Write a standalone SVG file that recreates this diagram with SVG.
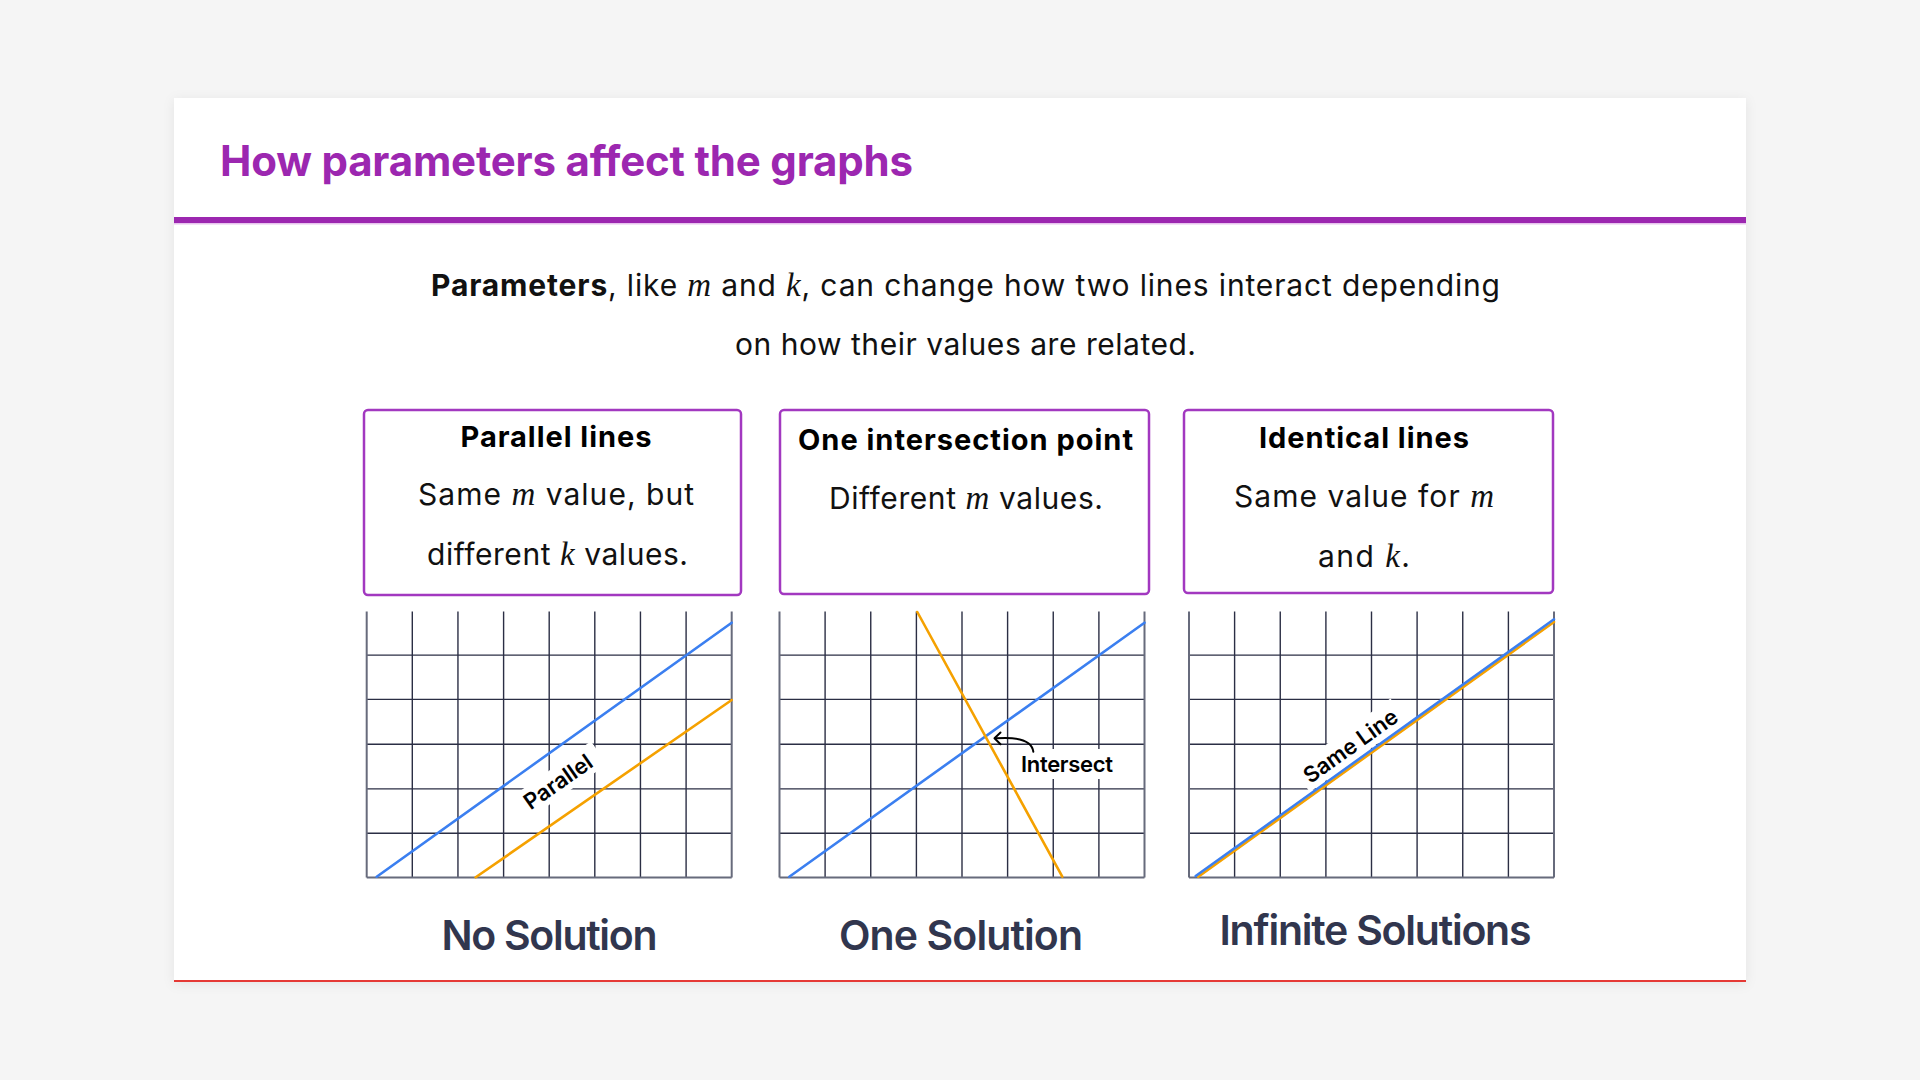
<svg xmlns="http://www.w3.org/2000/svg" xmlns:xlink="http://www.w3.org/1999/xlink" width="1920" height="1080" viewBox="0 0 1920 1080">
<style>
  text { font-family: Inter, "Noto Sans", "DejaVu Sans", sans-serif; }
  .title { font-size: 42px; font-weight: 700; fill: #9c27b0; }
  .body { font-size: 30px; font-weight: 400; fill: #111111; }
  .bold { font-weight: 700; }
  .math { font-family: "Liberation Serif", "DejaVu Serif", serif; font-style: italic; font-size: 33px; }
  .boxtitle { font-size: 29px; font-weight: 700; fill: #000000; }
  .box { fill: #ffffff; stroke: #a238c0; stroke-width: 2.5; }
  .gin { stroke: #2b2e44; stroke-width: 1.4; }
  .gout { stroke: #676b7c; stroke-width: 2; }
  .blue { stroke: #3b7ff0; stroke-width: 2.6; fill: none; stroke-linecap: round; }
  .orange { stroke: #f5a100; stroke-width: 2.6; fill: none; stroke-linecap: round; }
  .tag { font-size: 22px; font-weight: 600; fill: #000000; }
  .result { font-size: 41px; font-weight: 600; fill: #31364e; }
  .halo { fill: #ffffff; }
</style>
<defs>
  <filter id="shadow" x="-5%" y="-5%" width="110%" height="115%">
    <feDropShadow dx="0" dy="2" stdDeviation="6" flood-color="#000000" flood-opacity="0.07"/>
  </filter>
  <g id="grid-tpl">
    <line class="gin" x1="45.6" y1="0" x2="45.6" y2="266"/>
    <line class="gin" x1="91.25" y1="0" x2="91.25" y2="266"/>
    <line class="gin" x1="136.9" y1="0" x2="136.9" y2="266"/>
    <line class="gin" x1="182.5" y1="0" x2="182.5" y2="266"/>
    <line class="gin" x1="228.1" y1="0" x2="228.1" y2="266"/>
    <line class="gin" x1="273.75" y1="0" x2="273.75" y2="266"/>
    <line class="gin" x1="319.4" y1="0" x2="319.4" y2="266"/>
    <line class="gin" x1="0" y1="43.6" x2="365" y2="43.6"/>
    <line class="gin" x1="0" y1="87.9" x2="365" y2="87.9"/>
    <line class="gin" x1="0" y1="132.8" x2="365" y2="132.8"/>
    <line class="gin" x1="0" y1="177.4" x2="365" y2="177.4"/>
    <line class="gin" x1="0" y1="221.8" x2="365" y2="221.8"/>
    <line class="gout" x1="0" y1="0" x2="0" y2="266"/>
    <line class="gout" x1="365" y1="0" x2="365" y2="266"/>
    <line class="gout" x1="0" y1="266" x2="365" y2="266"/>
  </g>
</defs>

<rect x="0" y="0" width="1920" height="1080" fill="#f5f5f5"/>

<g id="card">
  <rect x="174" y="98" width="1572" height="884" fill="#ffffff" filter="url(#shadow)"/>
  <rect x="174" y="980" width="1572" height="2" fill="#e53935"/>
</g>

<g id="header">
  <text class="title" x="220" y="176" textLength="693">How parameters affect the graphs</text>
  <rect x="174" y="217" width="1572" height="6" fill="#9c27b0"/>
  <rect x="174" y="223" width="1572" height="1.5" fill="#e7c4ee"/>
</g>

<g id="intro">
  <text class="body" x="965.5" y="296" text-anchor="middle" textLength="1069"><tspan class="bold">Parameters</tspan>, like <tspan class="math">m</tspan> and <tspan class="math">k</tspan>, can change how two lines interact depending</text>
  <text class="body" x="965.5" y="355" text-anchor="middle" textLength="461">on how their values are related.</text>
</g>

<g id="box-parallel">
  <rect class="box" x="364" y="410" width="377" height="185" rx="4"/>
  <text class="boxtitle" x="556" y="447" text-anchor="middle" textLength="191">Parallel lines</text>
  <text class="body" x="556" y="505" text-anchor="middle" textLength="276">Same <tspan class="math">m</tspan> value, but</text>
  <text class="body" x="557.5" y="565" text-anchor="middle" textLength="261">different <tspan class="math">k</tspan> values.</text>
</g>

<g id="box-intersection">
  <rect class="box" x="780" y="410" width="369" height="184" rx="4"/>
  <text class="boxtitle" x="965.5" y="450" text-anchor="middle" textLength="335">One intersection point</text>
  <text class="body" x="966" y="509" text-anchor="middle" textLength="274">Different <tspan class="math">m</tspan> values.</text>
</g>

<g id="box-identical">
  <rect class="box" x="1184" y="410" width="369" height="183" rx="4"/>
  <text class="boxtitle" x="1364" y="448" text-anchor="middle" textLength="210">Identical lines</text>
  <text class="body" x="1364" y="507" text-anchor="middle" textLength="260">Same value for <tspan class="math">m</tspan></text>
  <text class="body" x="1364" y="567" text-anchor="middle" textLength="92">and <tspan class="math">k</tspan>.</text>
</g>

<g id="graph-parallel">
  <use xlink:href="#grid-tpl" href="#grid-tpl" x="366.7" y="611.5"/>
  <rect class="halo" x="-50" y="-14" width="100" height="28" transform="translate(558 781.5) rotate(-35)"/>
  <line class="blue" x1="376.7" y1="876.7" x2="731.7" y2="622.7"/>
  <line class="orange" x1="475.7" y1="877.3" x2="731.7" y2="700"/>
  <text class="tag" x="0" y="8" text-anchor="middle" transform="translate(558 781.5) rotate(-35)">Parallel</text>
</g>

<g id="graph-intersect">
  <use xlink:href="#grid-tpl" href="#grid-tpl" x="779.5" y="611.5"/>
  <rect class="halo" x="1015" y="749" width="105" height="30"/>
  <line class="blue" x1="789.3" y1="876.7" x2="1144.5" y2="622.7"/>
  <line class="orange" x1="917.3" y1="612" x2="1062.3" y2="876.7"/>
  <text class="tag" x="1021" y="771.5" textLength="92">Intersect</text>
</g>

<g id="graph-same">
  <use xlink:href="#grid-tpl" href="#grid-tpl" x="1189" y="611.5"/>
  <rect class="halo" x="-60" y="-16" width="120" height="29" transform="translate(1351 746.5) rotate(-35.6)"/>
  <line class="orange" x1="1198.3" y1="876.7" x2="1554" y2="622"/>
  <line class="blue" x1="1195.7" y1="876" x2="1554" y2="619.3"/>
  <text class="tag" x="0" y="7" text-anchor="middle" transform="translate(1351 746.5) rotate(-35.6)">Same Line</text>
</g>

<g id="connectors">
  <path d="M1033.3,751.7 C1032,741 1020,736.5 996,738.3" fill="none" stroke="#000000" stroke-width="2" stroke-linecap="round"/>
  <path d="M1000.5,732.5 L994.5,738.3 L1000.5,744.3" fill="none" stroke="#000000" stroke-width="2" stroke-linecap="round" stroke-linejoin="round"/>
</g>

<g id="results">
  <text class="result" x="549.5" y="950" text-anchor="middle" textLength="216">No Solution</text>
  <text class="result" x="961" y="950" text-anchor="middle" textLength="244">One Solution</text>
  <text class="result" x="1375.5" y="944.5" text-anchor="middle" textLength="312">Infinite Solutions</text>
</g>
</svg>
